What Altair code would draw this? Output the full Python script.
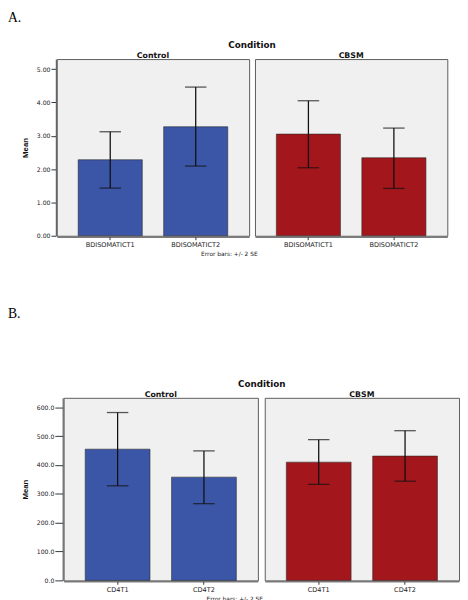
import altair as alt
import pandas as pd

conditions = ["Control", "Control", "CBSM", "CBSM"]
a_vars = ["BDISOMATICT1", "BDISOMATICT2", "BDISOMATICT1", "BDISOMATICT2"]
a_mean = [2.28, 3.27, 3.05, 2.34]
a_lo = [1.43, 2.09, 2.04, 1.42]
a_hi = [3.12, 4.46, 4.05, 3.23]
a_ticks = [0, 1, 2, 3, 4, 5]

b_vars = ["CD4T1", "CD4T2", "CD4T1", "CD4T2"]
b_mean = [455, 358, 410, 431]
b_lo = [328, 266, 333, 344]
b_hi = [582, 449, 488, 519]
b_ticks = [0, 100, 200, 300, 400, 500, 600]

cond_order = ["Control", "CBSM"]
cond_colors = ["#3b55a7", "#a3171c"]
note = "Error bars: +/- 2 SE"

SANS = "DejaVu Sans"


def block(vars_, mean, lo, hi, ticks, fmt, ymax, w, h, spacing, letter, note_dx, letter_offset, ytick):
    df = pd.DataFrame({"cond": conditions, "var": vars_, "mean": mean, "lo": lo, "hi": hi})
    order = sorted(set(vars_))
    xenc = alt.X("var:N", sort=order,
                 scale=alt.Scale(paddingInner=0.25, paddingOuter=0.25),
                 axis=alt.Axis(title=None, labelAngle=0, labelFont=SANS, labelFontSize=6.7,
                               labelColor="#222", tickSize=3, tickColor="#333",
                               labelPadding=2, domainColor="#444"))
    yscale = alt.Scale(domain=[0, ymax], nice=False, zero=True)
    yaxis = alt.Axis(title="Mean", values=ticks, format=fmt, grid=False,
                     labelFont=SANS, labelFontSize=6.3, labelColor="#222",
                     tickSize=ytick, tickColor="#333", labelPadding=1, domainColor="#444",
                     titleFont="Liberation Sans Narrow, Liberation Sans", titleFontSize=8,
                     titleFontWeight="bold", titleColor="#111", titlePadding=7)
    bars = alt.Chart().mark_bar(stroke="#2a2a2a", strokeWidth=0.6).encode(
        x=xenc,
        y=alt.Y("mean:Q", scale=yscale, axis=yaxis),
        color=alt.Color("cond:N", scale=alt.Scale(domain=cond_order, range=cond_colors), legend=None),
    )
    rule = alt.Chart().mark_rule(color="#111", strokeWidth=1.3).encode(
        x=xenc, y=alt.Y("lo:Q", scale=yscale, axis=yaxis), y2="hi:Q")
    cap_lo = alt.Chart().mark_tick(color="#111", thickness=1.3, size=22, orient="horizontal").encode(
        x=xenc, y=alt.Y("lo:Q", scale=yscale, axis=yaxis))
    cap_hi = alt.Chart().mark_tick(color="#111", thickness=1.3, size=22, orient="horizontal").encode(
        x=xenc, y=alt.Y("hi:Q", scale=yscale, axis=yaxis))
    layered = alt.layer(bars, rule, cap_lo, cap_hi, data=df).properties(width=w, height=h)
    fac = layered.facet(
        column=alt.Column("cond:N", sort=cond_order,
                          header=alt.Header(title="Condition", titleFont=SANS, titleFontSize=9,
                                            titleFontWeight="bold", titleColor="#111", titlePadding=-8,
                                            labelFont=SANS, labelFontSize=8, labelFontWeight="bold",
                                            labelColor="#111", labelPadding=-2)),
        spacing=spacing,
    ).properties(title=alt.TitleParams(note, orient="bottom", anchor="middle", font=SANS,
                                       fontSize=6, fontWeight="normal", color="#222",
                                       offset=3, dx=note_dx))
    # invisible spacer so that the panel letter sits at the left edge
    spacer = alt.Chart(pd.DataFrame({"s": [0]})).mark_point(opacity=0).encode(
        x=alt.X("s:Q", axis=None), y=alt.Y("s:Q", axis=None)
    ).properties(width=13, height=1,
                 view=alt.ViewBackground(strokeOpacity=0, fillOpacity=0))
    return alt.hconcat(spacer, fac, spacing=0,
                       title=alt.TitleParams(letter, anchor="start", font="Liberation Serif",
                                             fontSize=14, fontWeight="normal", color="#000",
                                             offset=letter_offset))


blockA = block(a_vars, a_mean, a_lo, a_hi, a_ticks, ".2f", 5.3, 197, 181, 4, "A.", -5.5, 17, 5)
blockB = block(b_vars, b_mean, b_lo, b_hi, b_ticks, ".1f", 633, 199, 187, 5, "B.", -6, 61, 8)

chart = alt.vconcat(blockA, blockB, spacing=51).properties(
    padding={"left": 0, "top": -4, "right": 0, "bottom": 0}
).configure_view(fill="#f0f0f0", stroke="#5a5a5a", strokeWidth=1)

chart.save("out.html", embed_options={"renderer": "svg", "actions": False})
